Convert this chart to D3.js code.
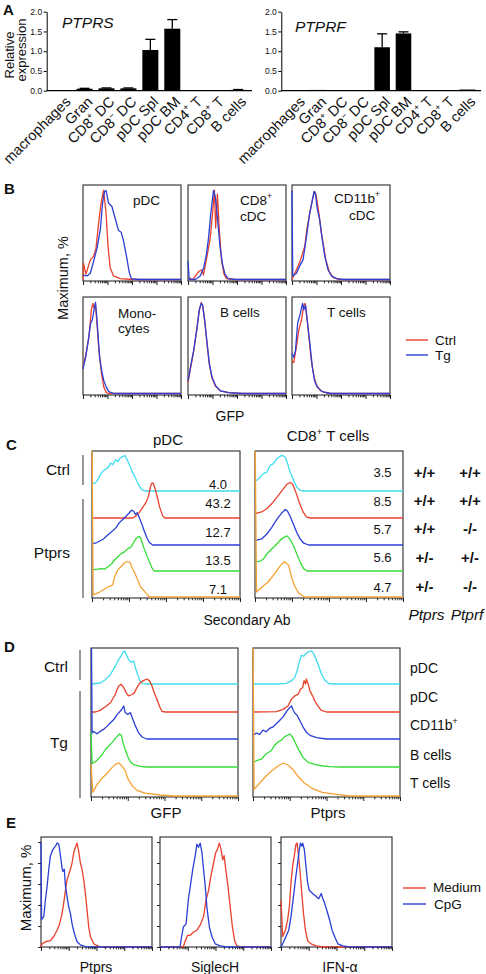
<!DOCTYPE html>
<html><head><meta charset="utf-8">
<script src="https://cdn.jsdelivr.net/npm/d3@7"></script>
<style>body{margin:0;background:#fff}svg{display:block}</style>
</head><body><svg id="c" width="486" height="974"></svg>
<script>
// ---------------- DATA ----------------
const aCategories = ["macrophages","Gran","CD8+ DC","CD8- DC","pDC Spl","pDC BM","CD4+ T","CD8+ T","B cells"];
const ptprsMean = [0.01,0.05,0.06,0.06,1.03,1.57,0.00,0.01,0.02];
const ptprsErr  = [0.00,0.01,0.01,0.01,0.27,0.23,0.00,0.00,0.01];
const ptprfMean = [0.00,0.02,0.00,0.00,1.10,1.45,0.00,0.01,0.03];
const ptprfErr  = [0.00,0.00,0.00,0.00,0.34,0.04,0.00,0.00,0.00];
const aTicks = [0,0.5,1.0,1.5,2.0];

// Panel B histograms: [log10 fluorescence (decades), % of max]
const bPdcCtrl = [[0,0],[0.02,18],[0.12,6],[0.30,22],[0.43,26],[0.53,35],[0.64,64],[0.75,88],[0.84,100],[0.94,75],[1.02,38],[1.11,13],[1.25,4],[1.52,1],[2.0,0],[4,0]];
const bPdcTg   = [[0,5],[0.16,4],[0.30,7],[0.43,20],[0.57,35],[0.71,57],[0.80,86],[0.88,99],[0.94,100],[1.04,86],[1.18,82],[1.32,68],[1.45,55],[1.56,53],[1.65,44],[1.79,24],[1.88,9],[1.97,1],[2.26,0],[4,0]];
const bCd8Ctrl = [[0,2],[0.2,0],[0.44,9],[0.57,11],[0.63,5],[0.77,25],[0.91,47],[1.01,77],[1.08,100],[1.13,58],[1.2,96],[1.28,55],[1.37,21],[1.47,6],[1.57,1],[1.84,0],[4,0]];
const bCd8Tg   = [[0,21],[0.05,0],[0.3,0],[0.5,4],[0.64,13],[0.75,28],[0.84,47],[0.93,74],[1.04,100],[1.12,92],[1.2,70],[1.31,36],[1.41,17],[1.51,6],[1.64,1],[1.97,0],[4,0]];
const bCd11Ctrl= [[0,0],[0.07,4],[0.31,19],[0.52,37],[0.61,57],[0.72,74],[0.86,93],[0.93,99],[0.99,94],[1.1,74],[1.2,52],[1.27,41],[1.38,22],[1.52,9],[1.68,2],[1.95,0],[4,0]];
const bCd11Tg  = [[0,100],[0.03,4],[0.18,7],[0.31,15],[0.45,22],[0.59,48],[0.72,74],[0.83,89],[0.9,99],[0.96,96],[1.02,81],[1.13,67],[1.24,44],[1.34,26],[1.47,11],[1.61,4],[1.82,1],[2.09,0],[4,0]];
const bMonoCtrl= [[0,29],[0.11,42],[0.24,62],[0.34,92],[0.41,99],[0.45,94],[0.51,97],[0.58,73],[0.65,47],[0.76,21],[0.85,7],[0.95,1],[1.05,0],[4,0]];
const bMonoTg  = [[0,27],[0.11,40],[0.22,59],[0.31,77],[0.38,81],[0.45,92],[0.51,100],[0.55,88],[0.61,66],[0.68,40],[0.76,25],[0.85,14],[0.95,7],[1.05,2],[1.26,0],[4,0]];
const bBCtrl   = [[0,12],[0.1,27],[0.23,46],[0.37,72],[0.46,91],[0.54,100],[0.6,96],[0.68,80],[0.78,54],[0.87,32],[0.98,17],[1.12,8],[1.32,3],[1.66,1],[2.2,0],[4,0]];
const bBTg     = [[0,14],[0.1,29],[0.23,47],[0.37,73],[0.46,92],[0.54,99],[0.6,97],[0.68,81],[0.78,55],[0.87,33],[0.98,18],[1.12,9],[1.32,3],[1.66,1],[2.2,0],[4,0]];
const bTCtrl   = [[0,36],[0.07,34],[0.18,51],[0.28,70],[0.39,81],[0.48,97],[0.54,99],[0.59,88],[0.69,62],[0.79,36],[0.9,18],[1.01,9],[1.17,3],[1.45,0],[4,0]];
const bTTg     = [[0,44],[0.07,40],[0.14,47],[0.23,77],[0.34,88],[0.43,99],[0.48,92],[0.55,97],[0.62,81],[0.73,55],[0.83,29],[0.92,14],[1.03,7],[1.24,2],[1.59,0],[4,0]];

// Panel C
const cPdcCyan  = [[0,20],[0.09,23],[0.16,32],[0.25,51],[0.34,60],[0.43,65],[0.5,79],[0.56,74],[0.64,88],[0.7,83],[0.76,93],[0.83,97],[0.89,100],[0.95,88],[1.01,74],[1.08,56],[1.15,42],[1.21,28],[1.28,14],[1.35,3],[1.46,0],[4,0]];
const cPdcRed   = [[0,0],[1.1,0],[1.19,6],[1.28,16],[1.37,30],[1.46,44],[1.53,62],[1.57,85],[1.62,99],[1.66,97],[1.71,81],[1.77,57],[1.83,30],[1.91,6],[1.97,0],[4,0]];
const cPdcBlue  = [[0,3],[0.13,7],[0.22,12],[0.31,17],[0.4,26],[0.56,40],[0.65,49],[0.74,63],[0.83,72],[0.92,81],[1.01,91],[1.07,98],[1.13,95],[1.17,86],[1.22,91],[1.28,77],[1.35,58],[1.41,40],[1.48,21],[1.55,7],[1.64,0],[4,0]];
const cPdcGreen = [[0,3],[0.16,5],[0.25,7],[0.34,5],[0.43,12],[0.52,19],[0.61,31],[0.7,40],[0.79,49],[0.88,54],[0.97,63],[1.06,68],[1.13,81],[1.19,91],[1.26,97],[1.31,95],[1.35,81],[1.41,63],[1.48,44],[1.55,26],[1.62,9],[1.68,0],[4,0]];
const cPdcOrange= [[0,500],[0.03,6],[0.21,14],[0.39,26],[0.56,34],[0.61,57],[0.7,77],[0.79,86],[0.88,97],[0.97,100],[1.03,97],[1.08,83],[1.15,69],[1.23,49],[1.31,29],[1.46,11],[1.55,0],[4,0]];
const cTCyan    = [[0,30],[0.05,30],[0.14,39],[0.23,49],[0.32,53],[0.41,72],[0.5,77],[0.59,91],[0.68,98],[0.75,100],[0.82,95],[0.88,77],[0.95,53],[1.04,30],[1.13,11],[1.22,2],[1.32,0],[4,0]];
const cTRed     = [[0,12],[0.18,17],[0.32,26],[0.45,40],[0.59,58],[0.73,77],[0.86,95],[0.95,100],[1.02,95],[1.12,68],[1.21,40],[1.3,17],[1.39,3],[1.5,0],[4,0]];
const cTBlue    = [[0,12],[0.18,17],[0.32,31],[0.45,49],[0.59,72],[0.73,91],[0.82,100],[0.88,95],[0.95,81],[1.04,58],[1.13,35],[1.22,17],[1.32,5],[1.45,0],[4,0]];
const cTGreen   = [[0,25],[0.14,28],[0.23,34],[0.32,48],[0.45,62],[0.59,76],[0.68,87],[0.77,94],[0.86,99],[0.91,94],[0.97,85],[1.04,71],[1.13,48],[1.22,25],[1.32,6],[1.41,0],[4,0]];
const cTOrange  = [[0,500],[0.04,14],[0.2,29],[0.36,43],[0.53,66],[0.69,89],[0.8,100],[0.91,89],[0.99,54],[1.07,31],[1.18,11],[1.34,0],[4,0]];
const cPdcMfi   = ["4.0","43.2","12.7","13.5","7.1"];
const cTMfi     = ["3.5","8.5","5.7","5.6","4.7"];
const ptprsGeno = ["+/+","+/+","+/+","+/-","+/-"];
const ptprfGeno = ["+/+","+/+","-/-","+/-","-/-"];

// Panel D
const dGCyan   = [[0,0],[0.25,3],[0.39,13],[0.53,29],[0.66,54],[0.75,74],[0.82,85],[0.87,95],[0.92,100],[0.96,90],[1.02,74],[1.09,66],[1.16,69],[1.21,49],[1.27,29],[1.34,8],[1.41,1],[1.52,0],[4,0]];
const dGRed    = [[0,0],[0.12,0],[0.25,5],[0.39,16],[0.53,28],[0.66,53],[0.75,79],[0.82,84],[0.89,74],[0.96,58],[1.02,49],[1.12,53],[1.18,58],[1.25,74],[1.34,89],[1.43,95],[1.52,100],[1.59,95],[1.66,79],[1.72,58],[1.8,37],[1.87,16],[1.93,2],[2.02,0],[4,0]];
const dGBlue   = [[0,500],[0.03,18],[0.07,23],[0.16,16],[0.25,23],[0.34,29],[0.44,39],[0.53,49],[0.62,59],[0.71,74],[0.8,85],[0.84,90],[0.89,100],[0.93,80],[1.0,74],[1.07,80],[1.14,59],[1.21,39],[1.3,18],[1.39,6],[1.52,0],[4,0]];
const dGGreen  = [[0,106],[0.03,11],[0.12,16],[0.21,26],[0.3,37],[0.39,53],[0.48,63],[0.57,74],[0.66,86],[0.73,95],[0.78,100],[0.83,95],[0.87,74],[0.93,53],[1.0,32],[1.07,16],[1.16,7],[1.34,2],[1.52,0],[4,0]];
const dGOrange = [[0,97],[0.05,11],[0.16,34],[0.3,54],[0.44,69],[0.57,86],[0.68,97],[0.76,100],[0.84,91],[0.93,77],[1.01,51],[1.12,31],[1.25,17],[1.47,9],[1.88,3],[2.29,0],[4,0]];
const dPCyan   = [[0,0],[0.64,0],[0.91,2],[1.05,10],[1.14,20],[1.2,41],[1.27,71],[1.32,87],[1.38,84],[1.44,92],[1.5,97],[1.59,100],[1.65,92],[1.73,71],[1.8,51],[1.86,31],[1.95,12],[2.05,2],[2.18,0],[4,0]];
const dPRed    = [[0,0],[0.64,1],[0.82,8],[0.95,18],[1.05,39],[1.14,49],[1.23,54],[1.29,69],[1.35,74],[1.39,95],[1.43,85],[1.45,100],[1.5,85],[1.55,64],[1.62,49],[1.68,34],[1.77,18],[1.86,5],[2.0,0],[4,0]];
const dPBlue   = [[0,11],[0.09,18],[0.18,14],[0.27,27],[0.36,22],[0.45,32],[0.55,37],[0.64,47],[0.73,57],[0.82,67],[0.91,83],[0.98,93],[1.05,100],[1.09,88],[1.14,78],[1.2,72],[1.27,57],[1.36,37],[1.45,21],[1.55,11],[1.73,4],[2.0,0],[4,0]];
const dPGreen  = [[0,14],[0.09,19],[0.23,24],[0.36,40],[0.5,50],[0.59,66],[0.68,76],[0.77,81],[0.86,92],[0.95,97],[1.0,100],[1.07,92],[1.14,76],[1.23,55],[1.36,29],[1.5,14],[1.68,8],[1.91,3],[2.09,1],[2.36,0],[4,0]];
const dPOrange = [[0,500],[0.03,20],[0.19,40],[0.35,60],[0.52,77],[0.68,91],[0.82,100],[0.95,94],[1.09,80],[1.22,60],[1.39,40],[1.61,23],[1.88,11],[2.23,6],[2.64,0],[4,0]];
const dRowLabels = ["pDC","pDC","CD11b+","B cells","T cells"];

// Panel E
const ePtprsMed = [[0,0],[0.04,3],[0.16,5],[0.34,6],[0.46,10],[0.58,16],[0.67,22],[0.76,32],[0.82,42],[0.88,54],[0.94,64],[1.0,69],[1.06,74],[1.12,80],[1.18,90],[1.24,95],[1.3,99],[1.36,91],[1.42,80],[1.48,74],[1.54,64],[1.6,51],[1.66,35],[1.72,19],[1.78,10],[1.9,3],[2.14,0],[4,0]];
const ePtprsCpG = [[0,100],[0.02,26],[0.1,29],[0.16,45],[0.22,58],[0.28,74],[0.34,87],[0.43,93],[0.52,96],[0.58,99],[0.64,98],[0.67,93],[0.72,83],[0.76,75],[0.79,72],[0.84,74],[0.88,58],[0.94,48],[1.0,38],[1.06,32],[1.12,22],[1.2,13],[1.3,5],[1.42,2],[1.66,0],[4,0]];
const eSiglecMed= [[0,0],[0.84,0],[0.9,5],[0.99,11],[1.08,11],[1.2,14],[1.33,16],[1.45,21],[1.57,29],[1.66,45],[1.75,54],[1.83,67],[1.93,80],[2.01,90],[2.07,93],[2.14,99],[2.2,93],[2.26,83],[2.31,87],[2.37,74],[2.45,58],[2.53,38],[2.61,19],[2.69,6],[2.77,1],[2.95,0],[4,0]];
const eSiglecCpG= [[0,0],[0.72,0],[0.78,10],[0.84,19],[0.94,22],[1.02,45],[1.11,61],[1.18,74],[1.27,87],[1.33,98],[1.39,95],[1.45,99],[1.51,90],[1.57,74],[1.63,58],[1.69,38],[1.78,19],[1.87,10],[1.99,3],[2.17,1],[2.41,0],[4,0]];
const eIfnMed   = [[0,45],[0.06,10],[0.16,16],[0.24,26],[0.3,38],[0.36,61],[0.42,77],[0.48,87],[0.54,98],[0.58,99],[0.63,87],[0.69,71],[0.75,51],[0.81,32],[0.88,16],[0.96,6],[1.08,3],[1.27,1],[1.51,0],[4,0]];
const eIfnCpG   = [[0,0],[0.06,3],[0.18,10],[0.28,16],[0.36,29],[0.45,48],[0.52,64],[0.6,80],[0.66,93],[0.7,99],[0.75,96],[0.78,99],[0.84,93],[0.9,77],[0.96,61],[1.02,54],[1.14,51],[1.27,48],[1.36,46],[1.45,51],[1.51,46],[1.57,42],[1.65,35],[1.75,26],[1.84,16],[1.93,10],[2.05,3],[2.23,1],[2.47,0],[4,0]];
const eAxisLabels = ["Ptprs","SiglecH","IFN-\u03b1"];
const eYTicks = [0,20,40,60,80,100];

// ---------------- DRAWING ----------------
const FONT = '"Liberation Sans", Arial, Helvetica, sans-serif';
const RED = "#e8412c", BLUE = "#2b3fd6", CYAN = "#3fdcf0", GREEN = "#35dc35", ORANGE = "#f5a233";
const svg = d3.select("#c");
svg.append("rect").attr("width",486).attr("height",974).attr("fill","#fff");
let clipN = 0;

function rich(sel, s, fs) {
  const m = s.match(/^(CD[0-9a-z]+)([+\-])(.*)$/);
  if (m) {
    sel.append("tspan").text(m[1]);
    sel.append("tspan").attr("dy", -fs*0.42).attr("font-size", fs*0.62).text(m[2] === "+" ? "+" : "\u2212");
    sel.append("tspan").attr("dy", fs*0.42).text(m[3].replace(/^ /, "\u00a0"));
  } else sel.text(s);
  return sel;
}
function txt(x, y, s, o = {}) {
  const fs = o.fs || 14;
  const t = svg.append("text").attr("x", x).attr("y", y).attr("font-family", FONT).attr("font-size", fs)
    .attr("fill", "#111").attr("text-anchor", o.anchor || "start");
  if (o.bold) t.attr("font-weight", "bold");
  if (o.italic) t.attr("font-style", "italic");
  if (o.rot) t.attr("transform", `rotate(${o.rot},${x},${y})`);
  rich(t, s, fs);
  return t;
}
function vline(x, y1, y2) {
  svg.append("line").attr("x1", x).attr("x2", x).attr("y1", y1).attr("y2", y2).attr("stroke", "#333").attr("stroke-width", 1);
}

// ---- Panel A ----
function barChart(x0, x1, yTop, yBot, means, errs) {
  const g = svg.append("g");
  const x = d3.scaleBand().domain(aCategories).range([x0 + 2, x1]).padding(0.27);
  const y = d3.scaleLinear().domain([0, 2]).range([yBot, yTop]);
  const ya = g.append("g").attr("transform", `translate(${x0},0)`)
    .call(d3.axisLeft(y).tickValues(aTicks).tickFormat(d3.format(".1f")).tickSize(3).tickPadding(1.5).tickSizeOuter(0));
  ya.selectAll("text").attr("font-size", 8.5).attr("font-family", FONT).attr("fill", "#111");
  ya.selectAll("line,path").attr("stroke", "#000");
  g.append("line").attr("x1", x0).attr("x2", x1).attr("y1", yBot).attr("y2", yBot).attr("stroke", "#000").attr("stroke-width", 1.2);
  const cx = i => x(aCategories[i]) + x.bandwidth() / 2;
  g.selectAll("rect.bar").data(means).join("rect")
    .attr("x", (d, i) => x(aCategories[i])).attr("width", x.bandwidth())
    .attr("y", d => y(d)).attr("height", d => yBot - y(d)).attr("fill", "#000");
  errs.forEach((e, i) => {
    if (e <= 0) return;
    const top = y(means[i] + e);
    g.append("line").attr("x1", cx(i)).attr("x2", cx(i)).attr("y1", y(means[i])).attr("y2", top).attr("stroke", "#000").attr("stroke-width", 1.3);
    g.append("line").attr("x1", cx(i) - 5).attr("x2", cx(i) + 5).attr("y1", top).attr("y2", top).attr("stroke", "#000").attr("stroke-width", 1.3);
  });
  aCategories.forEach((c, i) => {
    const px = cx(i) + 9, py = yBot + 12;
    txt(px, py, c, { fs: 14.5, anchor: "end", rot: -45 });
  });
}
barChart(46.7, 252, 11.7, 90.7, ptprsMean, ptprsErr);
barChart(281.3, 481, 11.7, 90.7, ptprfMean, ptprfErr);
txt(3, 15, "A", { fs: 15, bold: true });
txt(62, 28, "PTPRS", { fs: 15.5, italic: true });
txt(295, 31.5, "PTPRF", { fs: 15.5, italic: true });
txt(14, 55, "Relative", { fs: 13, anchor: "middle", rot: -90 });
txt(25.5, 50, "expression", { fs: 13, anchor: "middle", rot: -90 });

// ---- generic flow box ----
function flowBox(x0, y0, w, h, curves, opts = {}) {
  const id = "clip" + (clipN++);
  svg.append("clipPath").attr("id", id).append("rect").attr("x", x0 - 1).attr("y", y0).attr("width", w + 2).attr("height", h + 1);
  const g = svg.append("g");
  g.append("rect").attr("x", x0).attr("y", y0).attr("width", w).attr("height", h).attr("fill", "none").attr("stroke", "#2a2a2a").attr("stroke-width", 1.1);
  const xd = d3.scaleLinear().domain([0, 4]).range([x0, x0 + w]);
  const xl = d3.scaleLog().domain([1, 1e4]).range([x0, x0 + w]);
  const cg = g.append("g").attr("clip-path", `url(#${id})`);
  curves.forEach(c => {
    const y = d3.scaleLinear().domain([0, 100]).range([c.base, c.base - c.amp]);
    cg.append("path").datum(c.data)
      .attr("d", d3.line().x(d => xd(d[0])).y(d => y(d[1])))
      .attr("fill", "none").attr("stroke", c.color).attr("stroke-width", 1.3).attr("stroke-linejoin", "round");
  });
  const ax = g.append("g").attr("transform", `translate(0,${y0 + h})`)
    .call(d3.axisBottom(xl).tickValues(xl.ticks()).tickFormat("").tickSizeOuter(0));
  ax.select(".domain").remove();
  ax.selectAll(".tick line").attr("y2", d => Math.abs(Math.log10(d) - Math.round(Math.log10(d))) < 1e-9 ? 4 : 2.3).attr("stroke", "#222");
  if (opts.leftTicks) {
    const yl = d3.scaleLinear().domain([0, 100]).range([y0 + h, y0 + h - opts.amp]);
    const la = g.append("g").attr("transform", `translate(${x0},0)`)
      .call(d3.axisLeft(yl).tickValues(eYTicks).tickFormat("").tickSize(3).tickSizeOuter(0));
    la.select(".domain").remove();
    la.selectAll(".tick line").attr("stroke", "#222");
  }
}

// ---- Panel B ----
txt(4, 194, "B", { fs: 15, bold: true });
const bCols = [83, 188, 292], bW = 98;
const bRows = [{ y: 185, h: 96 }, { y: 297, h: 98 }];
const bPairs = [[bPdcCtrl, bPdcTg], [bCd8Ctrl, bCd8Tg], [bCd11Ctrl, bCd11Tg], [bMonoCtrl, bMonoTg], [bBCtrl, bBTg], [bTCtrl, bTTg]];
bPairs.forEach((p, i) => {
  const r = bRows[Math.floor(i / 3)], x0 = bCols[i % 3];
  const base = r.y + r.h - 1.5, amp = r.h - 7;
  flowBox(x0, r.y, bW, r.h, [
    { data: p[0], color: RED, base, amp },
    { data: p[1], color: BLUE, base, amp }
  ]);
});
txt(133, 205, "pDC", { fs: 13.5 });
txt(240, 205, "CD8+", { fs: 13.5 });
txt(240, 221, "cDC", { fs: 13.5 });
txt(334, 203, "CD11b+", { fs: 13.5 });
txt(349, 220, "cDC", { fs: 13.5 });
txt(118, 318, "Mono-", { fs: 13.5 });
txt(118, 333, "cytes", { fs: 13.5 });
txt(220, 317, "B cells", { fs: 13.5 });
txt(327, 317, "T cells", { fs: 13.5 });
txt(68, 278, "Maximum, %", { fs: 14.5, anchor: "middle", rot: -90 });
txt(230, 421, "GFP", { fs: 14, anchor: "middle" });
// legend B
svg.append("line").attr("x1", 406).attr("x2", 428).attr("y1", 340).attr("y2", 340).attr("stroke", RED).attr("stroke-width", 1.4);
svg.append("line").attr("x1", 406).attr("x2", 428).attr("y1", 355).attr("y2", 355).attr("stroke", BLUE).attr("stroke-width", 1.4);
txt(435, 345, "Ctrl", { fs: 13.5 });
txt(435, 360, "Tg", { fs: 13.5 });

// ---- Panel C ----
txt(6, 450, "C", { fs: 15, bold: true });
const cBases = [491, 518, 545, 571, 597];
const stackColors = [CYAN, RED, BLUE, GREEN, ORANGE];
const cPdcSet = [cPdcCyan, cPdcRed, cPdcBlue, cPdcGreen, cPdcOrange];
const cTSet = [cTCyan, cTRed, cTBlue, cTGreen, cTOrange];
flowBox(92, 451, 148, 147, cPdcSet.map((d, i) => ({ data: d, color: stackColors[i], base: cBases[i], amp: 35.5 })));
flowBox(255, 451, 148, 147, cTSet.map((d, i) => ({ data: d, color: stackColors[i], base: cBases[i], amp: 35.5 })));
txt(168, 445, "pDC", { fs: 15, anchor: "middle" });
txt(328, 441, "CD8+ T cells", { fs: 15, anchor: "middle" });
const cPdcNumY = [489, 508, 537, 565, 594];
const cTNumY = [477, 506, 534, 562, 592];
cPdcMfi.forEach((s, i) => txt(218, cPdcNumY[i], s, { fs: 13, anchor: "middle" }));
cTMfi.forEach((s, i) => txt(382.5, cTNumY[i], s, { fs: 13, anchor: "middle" }));
const genoY = [478, 506, 534, 563, 592];
ptprsGeno.forEach((s, i) => txt(424.5, genoY[i], s, { fs: 15, bold: true, anchor: "middle" }));
ptprfGeno.forEach((s, i) => txt(470, genoY[i], s, { fs: 15, bold: true, anchor: "middle" }));
txt(426.5, 620, "Ptprs", { fs: 15.5, italic: true, anchor: "middle" });
txt(467, 620, "Ptprf", { fs: 15.5, italic: true, anchor: "middle" });
txt(247, 625, "Secondary Ab", { fs: 14, anchor: "middle" });
txt(70, 475, "Ctrl", { fs: 15.5, anchor: "end" });
txt(70, 558, "Ptprs", { fs: 15.5, anchor: "end" });
vline(83, 455, 485);
vline(83, 499, 598);

// ---- Panel D ----
txt(4, 652, "D", { fs: 15, bold: true });
const dBases = [684, 712, 739, 767, 796];
const dGSet = [dGCyan, dGRed, dGBlue, dGGreen, dGOrange];
const dPSet = [dPCyan, dPRed, dPBlue, dPGreen, dPOrange];
flowBox(91, 648, 147, 149, dGSet.map((d, i) => ({ data: d, color: stackColors[i], base: dBases[i], amp: 33 })));
flowBox(253, 648, 147, 149, dPSet.map((d, i) => ({ data: d, color: stackColors[i], base: dBases[i], amp: 33 })));
const dLabY = [673, 702, 730, 760, 788];
dRowLabels.forEach((s, i) => txt(410, dLabY[i], s, { fs: 14 }));
txt(68, 672, "Ctrl", { fs: 15.5, anchor: "end" });
txt(68, 748, "Tg", { fs: 15.5, anchor: "end" });
vline(80, 650, 680);
vline(80, 691, 798);
txt(166, 818, "GFP", { fs: 15, anchor: "middle" });
txt(328, 818, "Ptprs", { fs: 15, anchor: "middle" });

// ---- Panel E ----
txt(6, 828, "E", { fs: 15, bold: true });
const eCols = [41, 160, 281], eW = 111, eY = 837, eH = 110, eAmp = 105;
const ePairs = [[ePtprsMed, ePtprsCpG], [eSiglecMed, eSiglecCpG], [eIfnMed, eIfnCpG]];
ePairs.forEach((p, i) => {
  flowBox(eCols[i], eY, eW, eH, [
    { data: p[0], color: RED, base: eY + eH, amp: eAmp },
    { data: p[1], color: BLUE, base: eY + eH, amp: eAmp }
  ], { leftTicks: true, amp: eAmp });
  txt(eCols[i] + [55, 55, 59][i], 972, eAxisLabels[i], { fs: 14, anchor: "middle" });
});
txt(31, 888, "Maximum, %", { fs: 15, anchor: "middle", rot: -90 });
svg.append("line").attr("x1", 403).attr("x2", 426).attr("y1", 888).attr("y2", 888).attr("stroke", RED).attr("stroke-width", 1.4);
svg.append("line").attr("x1", 403).attr("x2", 426).attr("y1", 904).attr("y2", 904).attr("stroke", BLUE).attr("stroke-width", 1.4);
txt(433, 891.5, "Medium", { fs: 13.5 });
txt(434, 908.5, "CpG", { fs: 13.5 });
</script></body></html>
